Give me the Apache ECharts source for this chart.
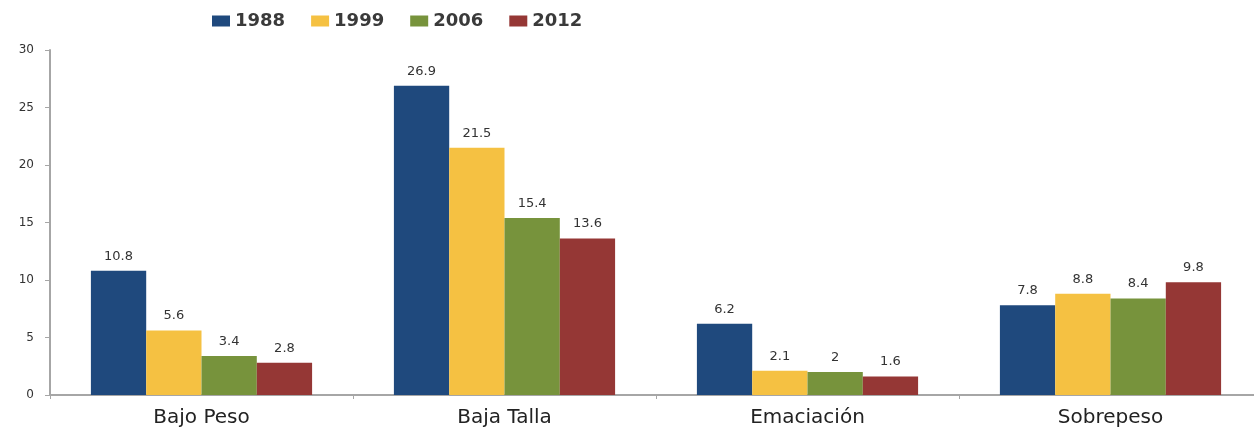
<!DOCTYPE html>
<html><head><meta charset="utf-8">
<script src="https://cdn.jsdelivr.net/npm/echarts@6/dist/echarts.min.js"></script>
<style>html,body{margin:0;padding:0;background:#fff}#c{width:1254px;height:430px}</style>
</head><body><div id="c"></div>
<script>
var categories = ['Bajo Peso', 'Baja Talla', 'Emaciación', 'Sobrepeso'];
var seriesNames = ['1988', '1999', '2006', '2012'];
var v1988 = [10.8, 26.9, 6.2, 7.8];
var v1999 = [5.6, 21.5, 2.1, 8.8];
var v2006 = [3.4, 15.4, 2, 8.4];
var v2012 = [2.8, 13.6, 1.6, 9.8];
var colors = ['#1F497D', '#F5C142', '#77933C', '#953735'];
var values = [v1988, v1999, v2006, v2012];

var chart = echarts.init(document.getElementById('c'));
var font = 'DejaVu Sans';
chart.setOption({
  animation: false,
  color: colors,
  legend: {
    left: 207, top: 7, itemWidth: 18, itemHeight: 11, itemGap: 26,
    icon: 'rect',
    textStyle: { fontFamily: font, fontSize: 18, fontWeight: 'bold', color: '#3a3a3a' },
    data: seriesNames
  },
  grid: { left: 50, top: 50, width: 1212, height: 345, outerBoundsMode: 'none', containLabel: false },
  xAxis: {
    type: 'category', data: categories,
    axisLine: { lineStyle: { color: '#A6A6A6', width: 2 } },
    axisTick: { show: true, length: 4, lineStyle: { color: '#A6A6A6' } },
    axisLabel: { fontFamily: font, fontSize: 20, color: '#222', margin: 13 }
  },
  yAxis: {
    type: 'value', min: 0, max: 30, interval: 5,
    axisLine: { show: true, lineStyle: { color: '#A6A6A6', width: 2 } },
    axisTick: { show: true, length: 5, lineStyle: { color: '#A6A6A6' } },
    splitLine: { show: false },
    axisLabel: { fontFamily: font, fontSize: 12, color: '#333', margin: 16 }
  },
  series: seriesNames.map(function (n, i) {
    return {
      name: n, type: 'bar', data: values[i],
      barGap: '0%', barCategoryGap: '27%',
      label: { show: true, position: 'top', distance: 8, fontFamily: font, fontSize: 13, color: '#333' }
    };
  })
});
</script></body></html>
